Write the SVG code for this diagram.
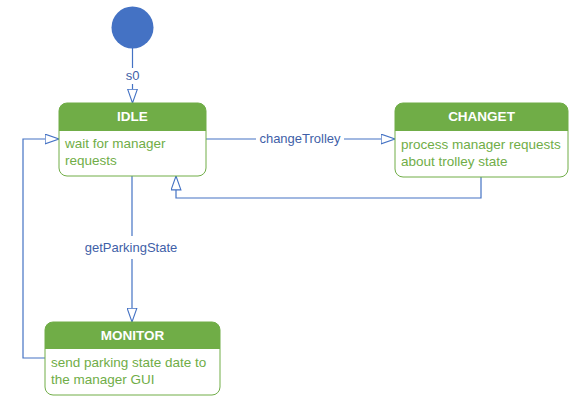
<svg xmlns="http://www.w3.org/2000/svg" width="584" height="415" viewBox="0 0 584 415">
<style>
.box{fill:#ffffff;stroke:#70AD47;stroke-width:1}
.hdr{fill:#70AD47}
.title{font-family:"Liberation Sans",Arial,sans-serif;font-size:13.5px;font-weight:bold;fill:#ffffff;text-anchor:middle}
.body{font-family:"Liberation Sans",Arial,sans-serif;font-size:13.5px;fill:#70AD47}
.conn{fill:none;stroke:#4472C4;stroke-width:1.2}
.lbl{font-family:"Liberation Sans",Arial,sans-serif;font-size:13px;fill:#3F5FA8;text-anchor:middle}
</style>
<defs>
<marker id="open" viewBox="0 0 15 11" refX="14.5" refY="5.5" markerWidth="15" markerHeight="11" orient="auto" markerUnits="userSpaceOnUse">
<path d="M0.6,0.6 L14.5,5.5 L0.6,10.4 Z" fill="#ffffff" stroke="#4472C4" stroke-width="1.1"/>
</marker>
</defs>
<g id="connectors">
<path class="conn" d="M132.5,48 V68"/>
<path class="conn" d="M132.5,84 V103" marker-end="url(#open)"/>
<text class="lbl" x="132.5" y="80">s0</text>
<path class="conn" d="M206,139 H256"/>
<path class="conn" d="M344,139 H395" marker-end="url(#open)"/>
<text class="lbl" x="300" y="143">changeTrolley</text>
<path class="conn" d="M481,177 V198 H176 V176" marker-end="url(#open)"/>
<path class="conn" d="M132,176 V236"/>
<path class="conn" d="M132,259 V322" marker-end="url(#open)"/>
<text class="lbl" x="131" y="252">getParkingState</text>
<path class="conn" d="M45,358 H23 V139 H59" marker-end="url(#open)"/>
</g>
<g id="initial">
<circle cx="132.5" cy="27.5" r="21" fill="#4472C4"/>
</g>
<g id="IDLE">
<rect class="box" x="59" y="103" width="147" height="73" rx="8"/>
<path class="hdr" d="M59,131 V111 A8,8 0 0 1 67,103 H198 A8,8 0 0 1 206,111 V131 Z"/>
<text class="title" x="132.5" y="121">IDLE</text>
<text class="body" x="65" y="148">wait for manager</text>
<text class="body" x="65" y="165">requests</text>
</g>
<g id="CHANGET">
<rect class="box" x="395" y="103" width="173" height="74" rx="8"/>
<path class="hdr" d="M395,131 V111 A8,8 0 0 1 403,103 H560 A8,8 0 0 1 568,111 V131 Z"/>
<text class="title" x="481.5" y="121">CHANGET</text>
<text class="body" x="401" y="149">process manager requests</text>
<text class="body" x="401" y="166">about trolley state</text>
</g>
<g id="MONITOR">
<rect class="box" x="45" y="322" width="175" height="73" rx="8"/>
<path class="hdr" d="M45,349 V330 A8,8 0 0 1 53,322 H212 A8,8 0 0 1 220,330 V349 Z"/>
<text class="title" x="132.5" y="340">MONITOR</text>
<text class="body" x="51" y="367">send parking state date to</text>
<text class="body" x="51" y="384">the manager GUI</text>
</g>
</svg>
